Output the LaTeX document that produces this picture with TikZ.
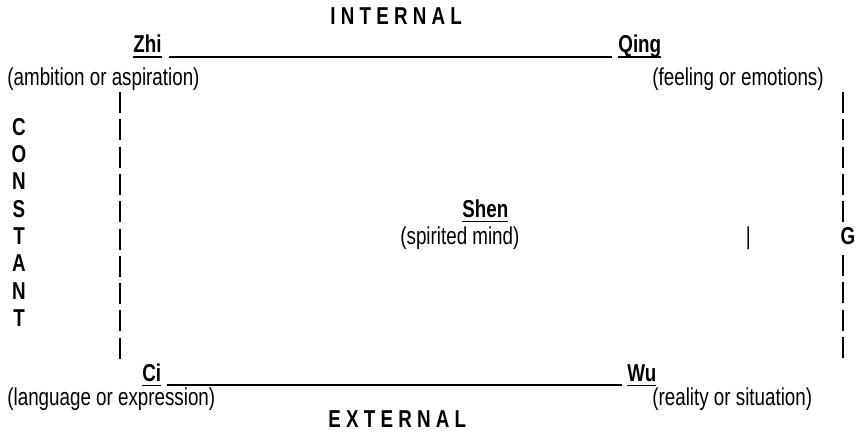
\documentclass[tikz,border=0pt]{standalone}
\usepackage{fontspec}
\setmainfont{Liberation Sans}[FakeStretch=0.77]
\usepackage{tikz}

\newcommand{\diagfont}{\fontsize{12.2}{13.65}\selectfont}
\newcommand{\ulword}[1]{\setbox0=\hbox{#1}\rlap{\rule[-2.5pt]{\wd0}{0.75pt}}\box0}

\tikzset{
  txt/.style={inner sep=0pt,anchor=base west,font=\diagfont},
  hd/.style={txt,font=\diagfont\bfseries},
  letter/.style={inner sep=0pt,anchor=base,font=\diagfont\bfseries},
  rule/.style={line width=0.75pt},
  pipes/.style={line width=0.85pt,dash pattern=on 10.5pt off 3.15pt},
}

\begin{document}
\begin{tikzpicture}[x=0.5pt,y=-0.5pt]
\useasboundingbox (0,0) rectangle (858,439);
% internal side
\node[hd] (internal) at (330,25) {I N T E R N A L};
\node[hd] (zhi) at (133,53) {\ulword{Zhi}};
\node[hd] (qing) at (618,53) {\ulword{Qing}};
\node[txt] (zhidesc) at (7,85) {(ambition or aspiration)};
\node[txt] (qingdesc) at (652,85) {(feeling or emotions)};
\draw[rule] ([xshift=3.5pt,yshift=-2.1pt]zhi.base east) -- ([xshift=-3pt,yshift=-2.1pt]qing.base west);
% constant column
\foreach \ch [count=\i from 0] in {C,O,N,S,T,A,N,T}
  \node[letter] (c\i) at (19,{135.3+27.3*\i}) {\ch};
% centre
\node[hd] (shen) at (462,217) {\ulword{Shen}};
\node[txt] (shendesc) at (400,244.5) {(spirited mind)};
\node[txt] (bar) at (745.5,244.5) {|};
\node[letter,outer sep=2.5pt] (g) at (848,244.5) {G};
% vertical rules
\coordinate (lt) at (120,92);
\coordinate (lb) at (120,359);
\coordinate (rt) at (843,92);
\coordinate (rb) at (843,358);
\draw[pipes] (lt) -- (lb);
\draw[pipes] (rt) -- (rt |- g.north);
\draw[pipes] (rb) -- (rb |- g.south);
% external side
\node[hd] (ci) at (142,381) {\ulword{Ci}};
\node[hd] (wu) at (627,381) {\ulword{Wu}};
\node[txt] (cidesc) at (7,405) {(language or expression)};
\node[txt] (wudesc) at (652,405) {(reality or situation)};
\node[hd] (external) at (328,427) {E X T E R N A L};
\draw[rule] ([xshift=2.5pt,yshift=-2.1pt]ci.base east) -- ([xshift=-2.5pt,yshift=-2.1pt]wu.base west);
\end{tikzpicture}
\end{document}
